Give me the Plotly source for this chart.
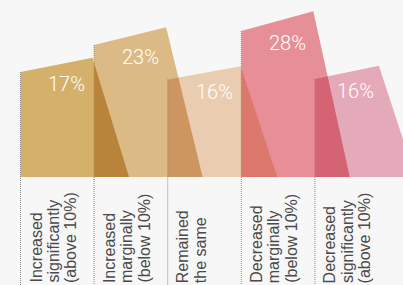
import plotly.graph_objects as go

# ---------------- data ----------------
categories = [
    "Increased<br>significantly<br>(above 10%)",
    "Increased<br>marginally<br>(below 10%)",
    "Remained<br>the same",
    "Decreased<br>marginally<br>(below 10%)",
    "Decreased<br>significantly<br>(above 10%)",
]
values = [17, 23, 16, 28, 16]                 # shown percentages
bar_heights = [105, 132, 97.5, 146, 98]       # drawn height of each bar's left edge (y units)

# ---------------- style ----------------
bar_colors = ["#d5b06b", "#dbba85", "#eaccb0", "#e68f96", "#e5aab9"]
overlap_colors = ["#b8843b", "#cd9660", "#dc776b", "#d46474"]
BG = "#f7f7f7"
PX = 73.6                     # pixels per category step
bar_widths_px = [72, 72, 73, 72, 64]
RISE = 0.135                  # perspective rise of the top edge
SLANT_PX = 36.5               # horizontal run of the slanted right edge
W, H = 403, 285
BASE_PX = 177                 # baseline position from top
LEFT_PX = 20.5


def quad(i):
    x0 = i
    w = bar_widths_px[i] / PX
    d = SLANT_PX / PX
    h = bar_heights[i]
    return [(x0, 0.0), (x0, h), (x0 + w, h * (1 + RISE)), (x0 + w + d, 0.0)]


def area(poly):
    s = 0
    for k in range(len(poly)):
        x1, y1 = poly[k]
        x2, y2 = poly[(k + 1) % len(poly)]
        s += x1 * y2 - x2 * y1
    return s / 2


def ccw(poly):
    return poly if area(poly) > 0 else poly[::-1]


def clip(subject, clipper):
    subject = ccw(subject)
    clipper = ccw(clipper)

    def inside(p, a, b):
        return (b[0] - a[0]) * (p[1] - a[1]) - (b[1] - a[1]) * (p[0] - a[0]) >= 0

    def inter(p, q, a, b):
        x1, y1 = p
        x2, y2 = q
        x3, y3 = a
        x4, y4 = b
        den = (x1 - x2) * (y3 - y4) - (y1 - y2) * (x3 - x4)
        t = ((x1 - x3) * (y3 - y4) - (y1 - y3) * (x3 - x4)) / den
        return (x1 + t * (x2 - x1), y1 + t * (y2 - y1))

    out = subject
    for k in range(len(clipper)):
        a = clipper[k]
        b = clipper[(k + 1) % len(clipper)]
        inp = out
        out = []
        if not inp:
            break
        s = inp[-1]
        for e in inp:
            if inside(e, a, b):
                if not inside(s, a, b):
                    out.append(inter(s, e, a, b))
                out.append(e)
            elif inside(s, a, b):
                out.append(inter(s, e, a, b))
            s = e
    return out


def poly_trace(poly, color):
    xs = [p[0] for p in poly] + [poly[0][0]]
    ys = [p[1] for p in poly] + [poly[0][1]]
    return go.Scatter(x=xs, y=ys, mode="lines", fill="toself", fillcolor=color,
                      line=dict(width=0, color=color), hoverinfo="skip", showlegend=False)


fig = go.Figure()
quads = [quad(i) for i in range(len(values))]
for i, q in enumerate(quads):
    fig.add_trace(poly_trace(q, bar_colors[i]))
    if i > 0:
        ov = clip(quads[i - 1], q)
        if len(ov) >= 3:
            fig.add_trace(poly_trace(ov, overlap_colors[i - 1]))

y_min = -(H - BASE_PX)
y_max = BASE_PX
for i in range(len(values)):
    fig.add_trace(go.Scatter(x=[i, i], y=[bar_heights[i], y_min], mode="lines",
                             line=dict(color="#8a8a8a", width=1, dash="1px,1px"),
                             hoverinfo="skip", showlegend=False))

annotations = []
for i, v in enumerate(values):
    w = bar_widths_px[i] / PX
    annotations.append(dict(
        x=i + 0.64 * w, y=bar_heights[i], xref="x", yref="y", text=f"{v}%",
        showarrow=False, xanchor="center", yanchor="middle", yshift=-12,
        font=dict(family="Roboto", size=20, color="#ffffff", weight=300)))
    for j, line in enumerate(categories[i].split("<br>")):
        annotations.append(dict(
            x=i, y=0, xref="x", yref="paper", text=line, showarrow=False,
            xanchor="center", yanchor="bottom", xshift=15 + 17.5 * j, textangle=-90,
            font=dict(family="Liberation Sans", size=16, color="#4a4a4a")))

fig.update_layout(
    width=W, height=H, margin=dict(l=0, r=0, t=0, b=0),
    paper_bgcolor=BG, plot_bgcolor=BG, showlegend=False,
    xaxis=dict(range=[-LEFT_PX / PX, (W - LEFT_PX) / PX], visible=False, fixedrange=True),
    yaxis=dict(range=[y_min, y_max], visible=False, fixedrange=True),
    annotations=annotations,
)
fig.write_html("out.html", config={"displayModeBar": False},
               post_script="document.body.style.margin='0';document.body.style.overflow='hidden';")
